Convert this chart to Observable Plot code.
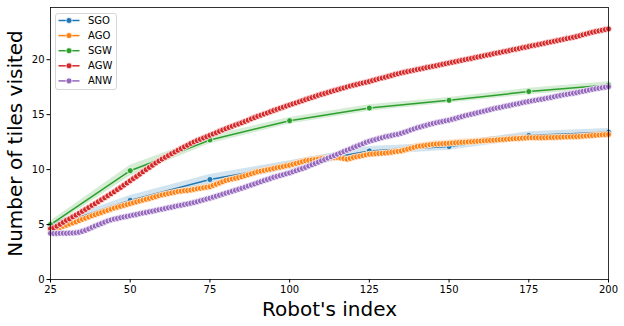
<!DOCTYPE html>
<html><head><meta charset="utf-8">
<script src="https://cdn.jsdelivr.net/npm/d3@7"></script>
<script src="https://cdn.jsdelivr.net/npm/@observablehq/plot@0.6"></script>
<style>
body{margin:0;background:#fff;font-family:"DejaVu Sans",sans-serif;}
#wrap{position:relative;width:624px;height:326px;}
#legend{position:absolute;left:55px;top:13px;}
</style></head><body><div id="wrap"></div>
<script>
const seriesNames = ["SGO", "AGO", "SGW", "AGW", "ANW"];
const seriesColors = ["#1f77b4", "#ff7f0e", "#2ca02c", "#d62728", "#9467bd"];
const xTicks = [25, 50, 75, 100, 125, 150, 175, 200];
const yTicks = [0, 5, 10, 15, 20];
const xLabel = "Robot's index";
const yLabel = "Number of tiles visited";

// sparse series (every 25 robots)
const sparseIndex = [25, 50, 75, 100, 125, 150, 175, 200];
const sgo = [4.8, 7.2, 9.1, 10.4, 11.7, 12.1, 13.1, 13.4];
const sgoSpread = [0.3, 0.45, 0.45, 0.4, 0.4, 0.35, 0.35, 0.35];
const sgw = [5.0, 9.9, 12.7, 14.45, 15.6, 16.3, 17.1, 17.7];
const sgwSpread = [0.3, 0.5, 0.35, 0.3, 0.3, 0.25, 0.3, 0.3];

// dense series (every robot index 25..200)
const denseIndex = d3.range(25, 201);
const ago = [
4.50,4.58,4.66,4.74,4.84,4.94,5.04,5.14,5.24,5.36,
5.48,5.58,5.68,5.80,5.90,6.00,6.10,6.20,6.30,6.40,
6.50,6.58,6.66,6.74,6.82,6.90,6.98,7.06,7.14,7.22,
7.30,7.38,7.46,7.54,7.62,7.70,7.76,7.82,7.88,7.94,
8.00,8.04,8.08,8.10,8.14,8.20,8.25,8.30,8.35,8.40,
8.45,8.56,8.67,8.78,8.89,9.00,9.07,9.14,9.21,9.28,
9.35,9.44,9.53,9.62,9.71,9.80,9.86,9.92,9.98,10.04,
10.10,10.16,10.22,10.28,10.34,10.40,10.48,10.56,10.64,10.72,
10.80,10.84,10.88,10.92,10.96,11.00,11.02,11.04,11.06,11.08,
11.10,11.05,11.00,10.95,11.02,11.10,11.16,11.22,11.28,11.34,
11.40,11.42,11.44,11.46,11.48,11.50,11.54,11.58,11.62,11.66,
11.70,11.78,11.86,11.94,12.02,12.10,12.14,12.18,12.22,12.26,
12.30,12.32,12.34,12.36,12.38,12.40,12.42,12.44,12.46,12.48,
12.50,12.52,12.54,12.56,12.58,12.60,12.62,12.64,12.66,12.68,
12.70,12.72,12.74,12.76,12.78,12.80,12.82,12.84,12.86,12.88,
12.90,12.90,12.90,12.90,12.90,12.90,12.91,12.92,12.93,12.94,
12.95,12.96,12.97,12.98,12.99,13.00,13.02,13.04,13.06,13.08,
13.10,13.12,13.14,13.16,13.18,13.20];
const agw = [
4.62,4.70,4.85,5.02,5.20,5.38,5.52,5.70,5.86,6.03,
6.20,6.38,6.55,6.74,6.90,7.08,7.26,7.44,7.62,7.80,
7.98,8.18,8.37,8.58,8.78,8.98,9.18,9.38,9.58,9.80,
10.00,10.20,10.40,10.60,10.78,10.96,11.12,11.28,11.45,11.60,
11.76,11.92,12.07,12.22,12.38,12.52,12.64,12.76,12.88,13.00,
13.12,13.24,13.36,13.48,13.60,13.72,13.83,13.94,14.05,14.15,
14.26,14.38,14.50,14.62,14.73,14.85,14.95,15.05,15.16,15.27,
15.38,15.48,15.58,15.68,15.78,15.88,15.98,16.07,16.17,16.27,
16.37,16.46,16.56,16.66,16.76,16.85,16.93,17.02,17.10,17.19,
17.27,17.35,17.43,17.52,17.60,17.68,17.74,17.81,17.88,17.95,
18.02,18.10,18.18,18.26,18.33,18.41,18.49,18.57,18.65,18.72,
18.80,18.86,18.92,18.98,19.04,19.10,19.16,19.22,19.28,19.34,
19.40,19.46,19.52,19.58,19.64,19.70,19.76,19.82,19.88,19.94,
20.00,20.06,20.12,20.18,20.24,20.30,20.36,20.42,20.48,20.54,
20.60,20.66,20.72,20.78,20.84,20.90,20.96,21.02,21.08,21.14,
21.20,21.26,21.32,21.38,21.44,21.50,21.56,21.62,21.68,21.74,
21.80,21.86,21.92,21.98,22.04,22.10,22.18,22.26,22.34,22.42,
22.50,22.56,22.62,22.68,22.74,22.80];
const anw = [
4.20,4.18,4.19,4.20,4.21,4.20,4.22,4.23,4.25,4.30,
4.38,4.48,4.60,4.74,4.86,4.98,5.10,5.22,5.33,5.42,
5.50,5.56,5.62,5.68,5.74,5.80,5.86,5.92,5.98,6.04,
6.10,6.16,6.22,6.28,6.34,6.40,6.46,6.52,6.58,6.64,
6.70,6.76,6.82,6.88,6.94,7.00,7.08,7.16,7.24,7.32,
7.40,7.49,7.58,7.67,7.76,7.85,7.94,8.03,8.12,8.21,
8.30,8.40,8.50,8.60,8.70,8.80,8.90,9.00,9.10,9.20,
9.30,9.38,9.46,9.54,9.62,9.70,9.80,9.90,10.00,10.10,
10.20,10.32,10.44,10.56,10.68,10.80,10.92,11.04,11.16,11.28,
11.40,11.52,11.64,11.76,11.88,12.00,12.12,12.24,12.36,12.48,
12.58,12.66,12.74,12.82,12.90,12.98,13.04,13.10,13.16,13.22,
13.30,13.40,13.50,13.60,13.70,13.80,13.88,13.96,14.04,14.12,
14.20,14.26,14.32,14.38,14.44,14.50,14.58,14.66,14.74,14.82,
14.90,14.97,15.04,15.11,15.18,15.25,15.32,15.39,15.46,15.53,
15.60,15.66,15.72,15.78,15.84,15.90,15.96,16.02,16.08,16.14,
16.20,16.25,16.30,16.35,16.40,16.45,16.51,16.57,16.63,16.69,
16.75,16.80,16.85,16.90,16.95,17.00,17.06,17.12,17.18,17.24,
17.30,17.35,17.40,17.45,17.50,17.55];
const agoSpread = 0.3, agwSpread = 0.25, anwSpread = 0.25;

function rows(xs, ys, spread) {
  return xs.map((x, i) => {
    const s = Array.isArray(spread) ? spread[i] : spread;
    return {x, y: ys[i], lo: ys[i] - s, hi: ys[i] + s};
  });
}
const tables = {
  SGO: rows(sparseIndex, sgo, sgoSpread),
  AGO: rows(denseIndex, ago, agoSpread),
  SGW: rows(sparseIndex, sgw, sgwSpread),
  AGW: rows(denseIndex, agw, agwSpread),
  ANW: rows(denseIndex, anw, anwSpread)
};

const seriesMarks = seriesNames.flatMap((name, i) => {
  const c = seriesColors[i], data = tables[name];
  return [
    Plot.areaY(data, {x: "x", y1: "lo", y2: "hi", fill: c, fillOpacity: 0.2}),
    Plot.lineY(data, {x: "x", y: "y", stroke: c, strokeWidth: 1.5}),
    Plot.dot(data, {x: "x", y: "y", r: 3, fill: c, stroke: "white", strokeWidth: 0.75})
  ];
});

const chart = Plot.plot({
  width: 624, height: 326,
  marginLeft: 50, marginRight: 16, marginTop: 7, marginBottom: 47,
  style: {fontFamily: "DejaVu Sans", fontSize: "10px", color: "black", background: "white", overflow: "visible"},
  x: {domain: [25, 200]},
  y: {domain: [0, 24.75]},
  marks: [
    ...seriesMarks,
    Plot.frame({stroke: "black", strokeWidth: 0.8}),
    Plot.axisX({ticks: xTicks, tickSize: 3.5, tickPadding: 2.5, fontSize: 10, label: null, tickFormat: d => String(d)}),
    Plot.axisY({ticks: yTicks, tickSize: 3.5, tickPadding: 2.5, fontSize: 10, label: null}),
    Plot.text([xLabel], {text: d => d, frameAnchor: "bottom", dy: 30, textAnchor: "middle", lineAnchor: "middle", fontSize: 20, fill: "black"}),
    Plot.text([yLabel], {text: d => d, frameAnchor: "left", dx: -35, rotate: -90, textAnchor: "middle", lineAnchor: "middle", fontSize: 20, fill: "black"})
  ]
});
const wrap = document.getElementById("wrap");
wrap.appendChild(chart);

// legend overlay
const lg = d3.select(wrap).append("svg").attr("id", "legend")
  .attr("width", 62).attr("height", 78)
  .style("font-family", "DejaVu Sans").style("font-size", "10px");
lg.append("rect").attr("x", 0.5).attr("y", 0.5).attr("width", 61).attr("height", 76)
  .attr("rx", 2.5).attr("fill", "white").attr("fill-opacity", 0.8).attr("stroke", "#cccccc").attr("stroke-width", 0.8);
seriesNames.forEach((name, i) => {
  const y = 7.5 + i * 15.1;
  const g = lg.append("g");
  g.append("line").attr("x1", 3.5).attr("x2", 24.5).attr("y1", y).attr("y2", y)
    .attr("stroke", seriesColors[i]).attr("stroke-width", 1.5);
  g.append("circle").attr("cx", 14).attr("cy", y).attr("r", 3)
    .attr("fill", seriesColors[i]).attr("stroke", "white").attr("stroke-width", 0.75);
  g.append("text").attr("x", 33).attr("y", y).attr("dy", "0.35em").attr("fill", "black").text(name);
});
</script></body></html>
